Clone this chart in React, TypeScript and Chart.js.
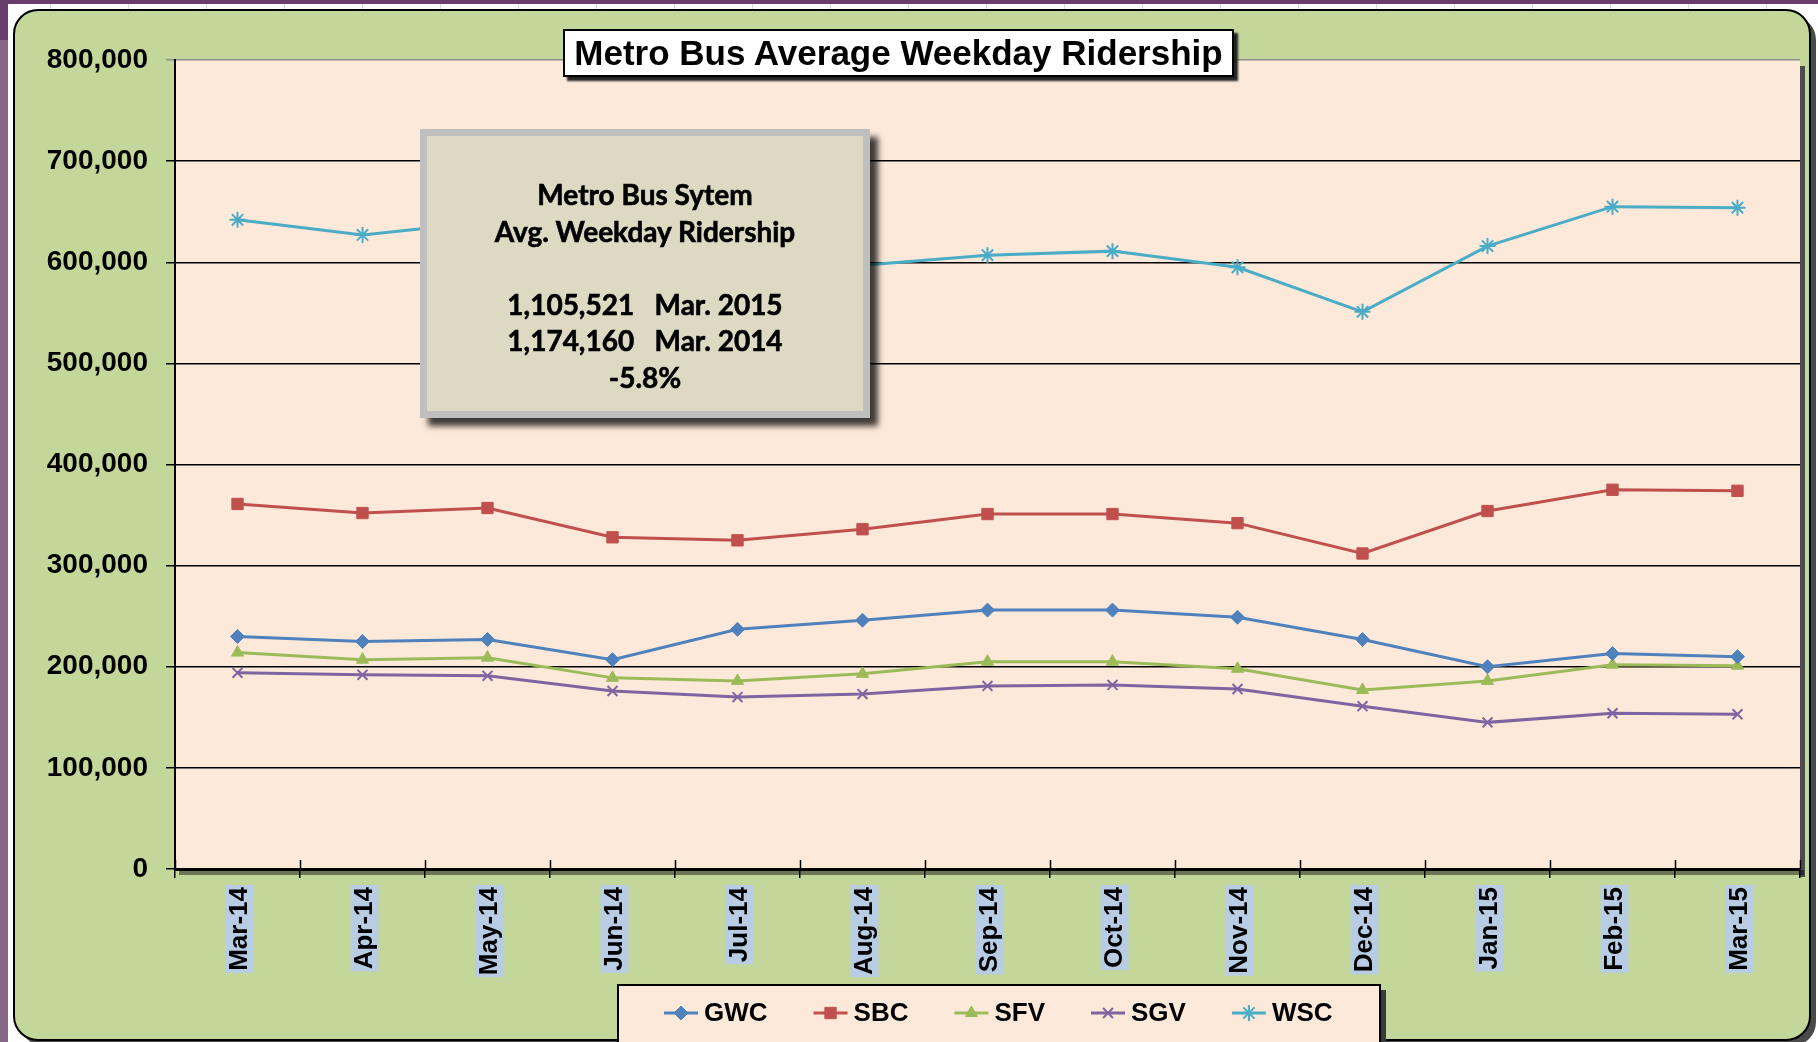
import React, { useEffect, useRef } from 'react';
import { Chart, registerables } from 'chart.js';
import { drawPoint } from 'chart.js/helpers';

Chart.register(...registerables);

const months = ['Mar-14', 'Apr-14', 'May-14', 'Jun-14', 'Jul-14', 'Aug-14', 'Sep-14', 'Oct-14', 'Nov-14', 'Dec-14', 'Jan-15', 'Feb-15', 'Mar-15'];
const gwc = [230000, 225000, 227000, 207000, 237000, 246000, 256000, 256000, 249000, 227000, 200000, 213000, 210000];
const sbc = [361000, 352000, 357000, 328000, 325000, 336000, 351000, 351000, 342000, 312000, 354000, 375000, 374000];
const sfv = [214000, 207000, 209000, 189000, 186000, 193000, 205000, 205000, 198000, 177000, 186000, 202000, 201000];
const sgv = [194000, 192000, 191000, 176000, 170000, 173000, 181000, 182000, 178000, 161000, 145000, 154000, 153000];
const wsc = [642000, 627000, 640000, 612000, 600000, 597000, 607000, 611000, 595000, 551000, 616000, 655000, 654000];

const yMin = 0;
const yMax = 800000;
const yStep = 100000;

const chartTitle = 'Metro Bus Average Weekday Ridership';
const noteLines = ['Metro Bus Sytem', 'Avg. Weekday Ridership', '', '1,105,521   Mar. 2015', '1,174,160   Mar. 2014', '-5.8%'];

const ARIAL = '"Liberation Sans", Arial, sans-serif';

const framePlugin = {
  id: 'frame',
  beforeDraw(chart: any) {
    const ctx = chart.ctx;
    const W = chart.width;
    const H = chart.height;
    const a = chart.chartArea;
    ctx.save();
    ctx.fillStyle = '#ffffff';
    ctx.fillRect(0, 0, W, H);
    ctx.strokeStyle = '#d9dde6';
    ctx.lineWidth = 1;
    for (let x = 50; x < W; x += 78) {
      ctx.beginPath();
      ctx.moveTo(x + 0.5, 4);
      ctx.lineTo(x + 0.5, 10);
      ctx.stroke();
    }
    ctx.fillStyle = '#6a3d6f';
    ctx.fillRect(0, 0, W, 4);
    ctx.fillStyle = '#876686';
    ctx.fillRect(0, 0, 8, H);
    ctx.fillStyle = '#6a3d6f';
    ctx.fillRect(0, 0, 8, 40);
    const px = 14, py = 10, pw = 1796, ph = 1030, r = 24;
    ctx.fillStyle = '#4a4a4a';
    ctx.beginPath();
    ctx.roundRect(px + 6, py + 6, pw, ph, r);
    ctx.fill();
    ctx.fillStyle = '#c4d79b';
    ctx.beginPath();
    ctx.roundRect(px, py, pw, ph, r);
    ctx.fill();
    ctx.strokeStyle = '#000';
    ctx.lineWidth = 2;
    ctx.stroke();
    ctx.fillStyle = '#4d4d4d';
    ctx.fillRect(a.right, a.top + 6, 5, a.bottom - a.top + 2);
    ctx.fillStyle = 'rgba(0,0,0,0.45)';
    ctx.fillRect(a.left + 4, a.bottom + 1, a.right - a.left, 5);
    ctx.fillStyle = '#fde9d9';
    ctx.fillRect(a.left, a.top, a.right - a.left, a.bottom - a.top);
    ctx.restore();
  },
  afterDraw(chart: any) {
    const ctx = chart.ctx;
    const a = chart.chartArea;
    const n = months.length;
    const step = (a.right - a.left) / n;
    ctx.save();
    ctx.strokeStyle = '#000';
    ctx.lineWidth = 1.5;
    for (let i = 0; i <= n; i++) {
      const x = Math.round(a.left + i * step) + 0.5;
      ctx.beginPath();
      ctx.moveTo(x, a.bottom - 9);
      ctx.lineTo(x, a.bottom);
      ctx.stroke();
    }
    ctx.restore();
  },
};

const legendPlugin = {
  id: 'boxLegend',
  afterDraw(chart: any) {
    const ctx = chart.ctx;
    ctx.save();
    ctx.fillStyle = '#3a3a3a';
    ctx.fillRect(1381, 990, 5, 60);
    ctx.fillStyle = '#fde9d9';
    ctx.fillRect(618, 985, 762, 60);
    ctx.strokeStyle = '#000';
    ctx.lineWidth = 2;
    ctx.strokeRect(618, 985, 762, 60);
    ctx.font = `bold 26px ${ARIAL}`;
    ctx.textBaseline = 'middle';
    ctx.textAlign = 'left';
    let x = 664;
    const y = 1013;
    chart.data.datasets.forEach((ds: any) => {
      ctx.strokeStyle = ds.borderColor;
      ctx.lineWidth = 3;
      ctx.beginPath();
      ctx.moveTo(x, y);
      ctx.lineTo(x + 34, y);
      ctx.stroke();
      ctx.fillStyle = ds.pointBackgroundColor;
      ctx.strokeStyle = ds.pointBorderColor;
      ctx.lineWidth = ds.pointBorderWidth;
      drawPoint(ctx, { pointStyle: ds.pointStyle, radius: ds.pointRadius, rotation: 0, borderWidth: ds.pointBorderWidth } as any, x + 17, y);
      ctx.fillStyle = '#000';
      ctx.fillText(ds.label, x + 40, y + 1);
      x = x + 40 + ctx.measureText(ds.label).width + 46;
    });
    ctx.restore();
  },
};

function series(label: string, data: number[], color: string, style: string, radius: number, bw: number) {
  return {
    label,
    data,
    borderColor: color,
    backgroundColor: color,
    pointBackgroundColor: color,
    pointBorderColor: color,
    borderWidth: 3,
    pointStyle: style,
    pointRadius: radius,
    pointBorderWidth: bw,
    tension: 0,
    fill: false,
  };
}

export default function App() {
  const ref = useRef<HTMLCanvasElement>(null);
  useEffect(() => {
    const chart = new Chart(ref.current as HTMLCanvasElement, {
      type: 'line',
      data: {
        labels: months,
        datasets: [
          series('GWC', gwc, '#4f81bd', 'rectRot', 7, 1),
          series('SBC', sbc, '#c0504d', 'rect', 8, 1),
          series('SFV', sfv, '#9bbb59', 'triangle', 7, 1),
          series('SGV', sgv, '#8064a2', 'crossRot', 7, 2),
          series('WSC', wsc, '#4bacc6', 'star', 8, 2),
        ] as any,
      },
      options: {
        responsive: false,
        animation: false,
        devicePixelRatio: 1,
        layout: { padding: { left: 0, right: 18, top: 60, bottom: 0 } },
        plugins: {
          legend: { display: false },
          title: { display: false },
          tooltip: { enabled: false },
        },
        scales: {
          x: {
            type: 'category',
            offset: true,
            grid: { offset: true, drawOnChartArea: false, drawTicks: true, tickLength: 9, color: '#000', lineWidth: 1.5 },
            border: { color: '#000', width: 3 },
            ticks: {
              autoSkip: false,
              maxRotation: 90,
              minRotation: 90,
              padding: 9,
              labelOffset: -11,
              color: '#000',
              font: { family: ARIAL, size: 26, weight: 'bold', lineHeight: 1 },
              showLabelBackdrop: true,
              backdropColor: '#b8cce4',
              backdropPadding: { top: 1, bottom: 1, left: 2, right: 2 },
            } as any,
            afterFit: (s: any) => { s.height = 173; },
          },
          y: {
            min: yMin,
            max: yMax,
            ticks: {
              stepSize: yStep,
              padding: 18,
              color: '#000',
              font: { family: ARIAL, size: 28, weight: 'bold' },
              callback: (v: any) => Number(v).toLocaleString('en-US'),
            },
            grid: {
              color: (c: any) => (c.tick && c.tick.value === yMax ? '#8c8c8c' : '#000'),
              lineWidth: 1.5,
              tickLength: 9,
              drawTicks: true,
            },
            border: { color: '#000', width: 2 },
            afterFit: (s: any) => { s.width = 175; },
          },
        },
      } as any,
      plugins: [framePlugin, legendPlugin],
    });
    return () => chart.destroy();
  }, []);

  return (
    <div style={{ position: 'absolute', left: 0, top: 0, width: 1818, height: 1042, overflow: 'hidden' }}>
      <canvas ref={ref} width={1818} height={1042} style={{ position: 'absolute', left: 0, top: 0 }} />
      <div
        style={{
          position: 'absolute', left: 563, top: 29, width: 671, height: 48, boxSizing: 'border-box',
          border: '2px solid #000', background: '#fff', boxShadow: '4px 4px 2px #222',
          display: 'flex', alignItems: 'center', justifyContent: 'center',
          font: `bold 35px ${ARIAL}`, color: '#000', whiteSpace: 'nowrap',
        }}
      >
        {chartTitle}
      </div>
      <div
        style={{
          position: 'absolute', left: 420, top: 129, width: 450, height: 289, boxSizing: 'border-box',
          border: '7px solid #bfbfbf', background: '#ddd9c3', boxShadow: '8px 8px 6px rgba(0,0,0,0.75)',
          paddingTop: 40, textAlign: 'center', font: 'bold 28px Lato, "Open Sans", sans-serif',
          lineHeight: '36.5px', color: '#000', whiteSpace: 'pre', WebkitTextStroke: '0.6px #000',
        }}
      >
        {noteLines.map((l, i) => (
          <div key={i} style={{ height: 36.5 }}>{l}</div>
        ))}
      </div>
    </div>
  );
}
